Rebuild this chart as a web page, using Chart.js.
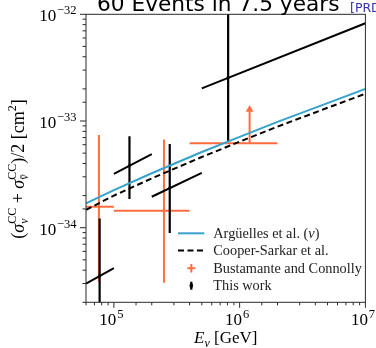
<!DOCTYPE html>
<html>
<head>
<meta charset="utf-8">
<script src="https://cdn.jsdelivr.net/npm/chart.js@4.4.0/dist/chart.umd.min.js"></script>
<style>
  html, body { margin: 0; padding: 0; background: #fff; }
</style>
</head>
<body>
<canvas id="xsecChart" width="376" height="348"></canvas>
<script>
// Energies (GeV) at which the theory curves are tabulated
const curveEnergies = [6e4, 1e5, 2e5, 5e5, 1e6, 2e6, 5e6, 1e7];
// Argüelles et al. (nu) averaged CC cross-section, cm^2
const arguellesXsec = [1.69e-34, 2.25e-34, 3.24e-34, 5.12e-34, 7.1e-34, 9.8e-34, 1.47e-33, 2.0e-33];
// Cooper-Sarkar et al. averaged CC cross-section, cm^2
const cooperSarkarXsec = [1.47e-34, 2.0e-34, 2.9e-34, 4.6e-34, 6.4e-34, 8.85e-34, 1.33e-33, 1.8e-33];

// Bustamante and Connolly: bin centres, bin edges and uncertainties
const bcEnergy = [7.6e4, 2.5e5, 1.2e6];
const bcXsec = [1.57e-34, 1.44e-34, 6.2e-34];
const bcEnergyLow = [5e4, 1e5, 4e5];
const bcEnergyHigh = [1e5, 4e5, 2e6];
const bcXsecLow = [3.1e-35, 3.05e-35, null];       // null = lower limit only
const bcXsecHigh = [7.4e-34, 6.7e-34, 1.28e-33];

// This work: bin centres with vertical uncertainties
const twEnergy = [7.7e4, 1.33e5, 2.78e5, 8.1e5];
const twXsec = [3.52e-35, 3.83e-34, 2.35e-34, 2.55e-33];
const twXsecLow = [1e-35, 1.86e-34, 8.9e-35, 6.4e-34];
const twXsecHigh = [1.22e-34, 7.2e-34, 6.1e-34, 2e-32];
// energy bins, drawn as slanted bars between the cross-section at each edge
const twBinLow = [6e4, 1e5, 2e5, 5e5];
const twBinHigh = [1e5, 2e5, 5e5, 1e7];
const twXsecAtLow = [2.99e-35, 3.19e-34, 1.95e-34, 2.02e-33];
const twXsecAtHigh = [4.18e-35, 4.89e-34, 3.27e-34, 8.24e-33];

const BLUE = '#35a3cd';
const ORANGE = '#ff6d3f';
const BLACK = '#000000';
const SERIF = '"Liberation Serif", "Times New Roman", serif';

function line(points, color, width, extra) {
  return Object.assign({
    data: points,
    showLine: true,
    borderColor: color,
    backgroundColor: color,
    borderWidth: width,
    pointRadius: 0,
    pointHoverRadius: 0,
    fill: false
  }, extra || {});
}

const datasets = [];
// curves first so they sit on top
datasets.push(line(curveEnergies.map((e, i) => ({ x: e, y: arguellesXsec[i] })), BLUE, 2));
datasets.push(line(curveEnergies.map((e, i) => ({ x: e, y: cooperSarkarXsec[i] })), BLACK, 2, { borderDash: [6, 3.5] }));

twEnergy.forEach((e, i) => {
  datasets.push(line([{ x: e, y: twXsecLow[i] }, { x: e, y: twXsecHigh[i] }], BLACK, 2.2));
  datasets.push(line([{ x: twBinLow[i], y: twXsecAtLow[i] }, { x: twBinHigh[i], y: twXsecAtHigh[i] }], BLACK, 2));
});
datasets.push({
  data: twEnergy.map((e, i) => ({ x: e, y: twXsec[i] })),
  showLine: false,
  pointRadius: 1.6,
  pointBackgroundColor: BLACK,
  pointBorderWidth: 0
});

bcEnergy.forEach((e, i) => {
  datasets.push(line([{ x: bcEnergyLow[i], y: bcXsec[i] }, { x: bcEnergyHigh[i], y: bcXsec[i] }], ORANGE, 2));
  if (bcXsecLow[i] !== null) {
    datasets.push(line([{ x: e, y: bcXsecLow[i] }, { x: e, y: bcXsecHigh[i] }], ORANGE, 2));
  } else {
    // lower limit: arrow pointing up
    datasets.push(line([{ x: e, y: bcXsec[i] }, { x: e, y: bcXsecHigh[i] }], ORANGE, 2, {
      pointStyle: 'triangle',
      pointRadius: [0, 4],
      pointBorderWidth: 0.5,
      pointBackgroundColor: ORANGE,
      pointBorderColor: ORANGE
    }));
  }
});

// ---- little helpers for text with super/subscripts ----
function fontOf(p) {
  return (p.i ? 'italic ' : '') + p.s + 'px ' + SERIF;
}

function runsWidth(ctx, runs) {
  let w = 0;
  runs.forEach(r => {
    const parts = r.stack || [r];
    w += Math.max(...parts.map(p => { ctx.font = fontOf(p); return ctx.measureText(p.t).width + (p.gap || 0); }));
  });
  return w;
}

function drawRuns(ctx, runs, x, y) {
  let cx = x;
  runs.forEach(r => {
    const parts = r.stack || [r];
    let adv = 0;
    parts.forEach(p => {
      ctx.font = fontOf(p);
      const w = ctx.measureText(p.t).width;
      ctx.fillText(p.t, cx + (p.gap || 0), y - (p.r || 0));
      if (p.bar) {
        ctx.fillRect(cx + w * 0.2, y - (p.r || 0) - p.s * 0.62, w * 0.7, 0.9);
      }
      adv = Math.max(adv, w + (p.gap || 0));
    });
    cx += adv;
  });
  return cx;
}

function isDecade(v) {
  const l = Math.log10(v);
  return Math.abs(l - Math.round(l)) < 1e-6;
}

const decorations = {
  id: 'decorations',
  afterDraw(chart) {
    const { ctx, chartArea: a } = chart;
    const xs = chart.scales.x;
    const ys = chart.scales.y;
    ctx.save();
    ctx.textAlign = 'left';
    ctx.textBaseline = 'alphabetic';

    // frame
    ctx.strokeStyle = '#2a2a2a';
    ctx.lineWidth = 1;
    ctx.strokeRect(a.left, a.top, a.right - a.left, a.bottom - a.top);

    // tick marks and decade labels
    ctx.fillStyle = '#000';
    ctx.beginPath();
    xs.ticks.forEach(t => {
      const px = xs.getPixelForValue(t.value);
      const len = isDecade(t.value) ? 5.5 : 3;
      ctx.moveTo(px, a.bottom);
      ctx.lineTo(px, a.bottom + len);
      if (isDecade(t.value)) {
        const runs = [{ t: '10', s: 17 }, { t: String(Math.round(Math.log10(t.value))), s: 12.5, r: 7, gap: 0.8 }];
        const w = runsWidth(ctx, runs);
        drawRuns(ctx, runs, px - w / 2 - 2.5, 325);
      }
    });
    ys.ticks.forEach(t => {
      const py = ys.getPixelForValue(t.value);
      const len = isDecade(t.value) ? 6 : 3.5;
      ctx.moveTo(a.left, py);
      ctx.lineTo(a.left - len, py);
      if (isDecade(t.value)) {
        const exp = Math.round(Math.log10(t.value));
        const runs = [{ t: '10', s: 17 }, { t: '\u2212' + Math.abs(exp), s: 12.5, r: 7, gap: 0.8 }];
        const w = runsWidth(ctx, runs);
        drawRuns(ctx, runs, 76.5 - w, py + 7);
      }
    });
    ctx.stroke();

    // x axis title
    const xTitle = [{ t: 'E', s: 17, i: true }, { t: '\u03bd', s: 12, i: true, r: -3.5 }, { t: ' [GeV]', s: 17 }];
    const xw = runsWidth(ctx, xTitle);
    drawRuns(ctx, xTitle, (a.left + a.right) / 2 - xw / 2, 343);

    // y axis title, rotated
    const yTitle = [
      { t: '(', s: 18 },
      { t: '\u03c3', s: 18, i: true },
      { stack: [{ t: 'CC', s: 12, r: 8 }, { t: '\u03bd', s: 12, i: true, r: -4 }] },
      { t: ' + ', s: 18 },
      { t: '\u03c3', s: 18, i: true },
      { stack: [{ t: 'CC', s: 12, r: 8 }, { t: '\u03bd', s: 12, i: true, r: -4, bar: true }] },
      { t: ')/2 [cm', s: 18 },
      { t: '2', s: 12, r: 8 },
      { t: ']', s: 18 }
    ];
    const yw = runsWidth(ctx, yTitle);
    ctx.save();
    ctx.translate(24, 169);
    ctx.rotate(-Math.PI / 2);
    drawRuns(ctx, yTitle, -yw / 2, 0);
    ctx.restore();

    // title, partly above the canvas
    ctx.font = '21.7px "DejaVu Sans", sans-serif';
    ctx.fillStyle = '#000';
    ctx.fillText('60 Events in 7.5 years', 97, 11);
    ctx.font = '12.5px "DejaVu Sans", sans-serif';
    ctx.fillStyle = '#3333aa';
    ctx.fillText('[PRD]', 350, 12);

    // legend
    const rows = [233.3, 250.5, 268.3, 285.7];
    const hx0 = 178, hx1 = 204.3, hxc = 191.3, tx = 213.3, LS = 14.3;
    ctx.lineCap = 'butt';
    ctx.strokeStyle = BLUE;
    ctx.lineWidth = 2;
    ctx.beginPath(); ctx.moveTo(hx0, rows[0]); ctx.lineTo(hx1, rows[0]); ctx.stroke();
    ctx.strokeStyle = BLACK;
    ctx.setLineDash([6, 3.5]);
    ctx.beginPath(); ctx.moveTo(hx0, rows[1]); ctx.lineTo(hx1, rows[1]); ctx.stroke();
    ctx.setLineDash([]);
    ctx.strokeStyle = ORANGE;
    ctx.beginPath();
    ctx.moveTo(hxc - 4, rows[2]); ctx.lineTo(hxc + 4, rows[2]);
    ctx.moveTo(hxc, rows[2] - 4.2); ctx.lineTo(hxc, rows[2] + 4.2);
    ctx.stroke();
    ctx.strokeStyle = BLACK;
    ctx.lineWidth = 2.2;
    ctx.beginPath(); ctx.moveTo(hxc, rows[3] - 4); ctx.lineTo(hxc, rows[3] + 4); ctx.stroke();
    ctx.fillStyle = BLACK;
    ctx.beginPath(); ctx.ellipse(hxc, rows[3], 1.8, 2.4, 0, 0, Math.PI * 2); ctx.fill();

    ctx.fillStyle = '#222';
    drawRuns(ctx, [{ t: 'Arg\u00fcelles et al. (', s: LS }, { t: '\u03bd', s: LS, i: true }, { t: ')', s: LS }], tx, rows[0] + 4.5);
    drawRuns(ctx, [{ t: 'Cooper-Sarkar et al.', s: LS }], tx, rows[1] + 4.5);
    drawRuns(ctx, [{ t: 'Bustamante and Connolly', s: LS }], tx, rows[2] + 4.5);
    drawRuns(ctx, [{ t: 'This work', s: LS }], tx, rows[3] + 4.5);

    ctx.restore();
  }
};

new Chart(document.getElementById('xsecChart'), {
  type: 'scatter',
  data: { datasets: datasets },
  options: {
    responsive: false,
    animation: false,
    devicePixelRatio: 1,
    events: [],
    layout: { padding: { top: 14.3, right: 10.6, left: 0, bottom: 0 } },
    plugins: { legend: { display: false }, tooltip: { enabled: false }, title: { display: false } },
    scales: {
      x: {
        type: 'logarithmic',
        min: 6e4,
        max: 1e7,
        ticks: { display: false },
        grid: { display: false },
        border: { display: false },
        afterFit: s => { s.height = 45.7; }
      },
      y: {
        type: 'logarithmic',
        min: 2e-35,
        max: 1e-32,
        ticks: { display: false },
        grid: { display: false },
        border: { display: false },
        afterFit: s => { s.width = 86; }
      }
    }
  },
  plugins: [decorations]
});
</script>
</body>
</html>
